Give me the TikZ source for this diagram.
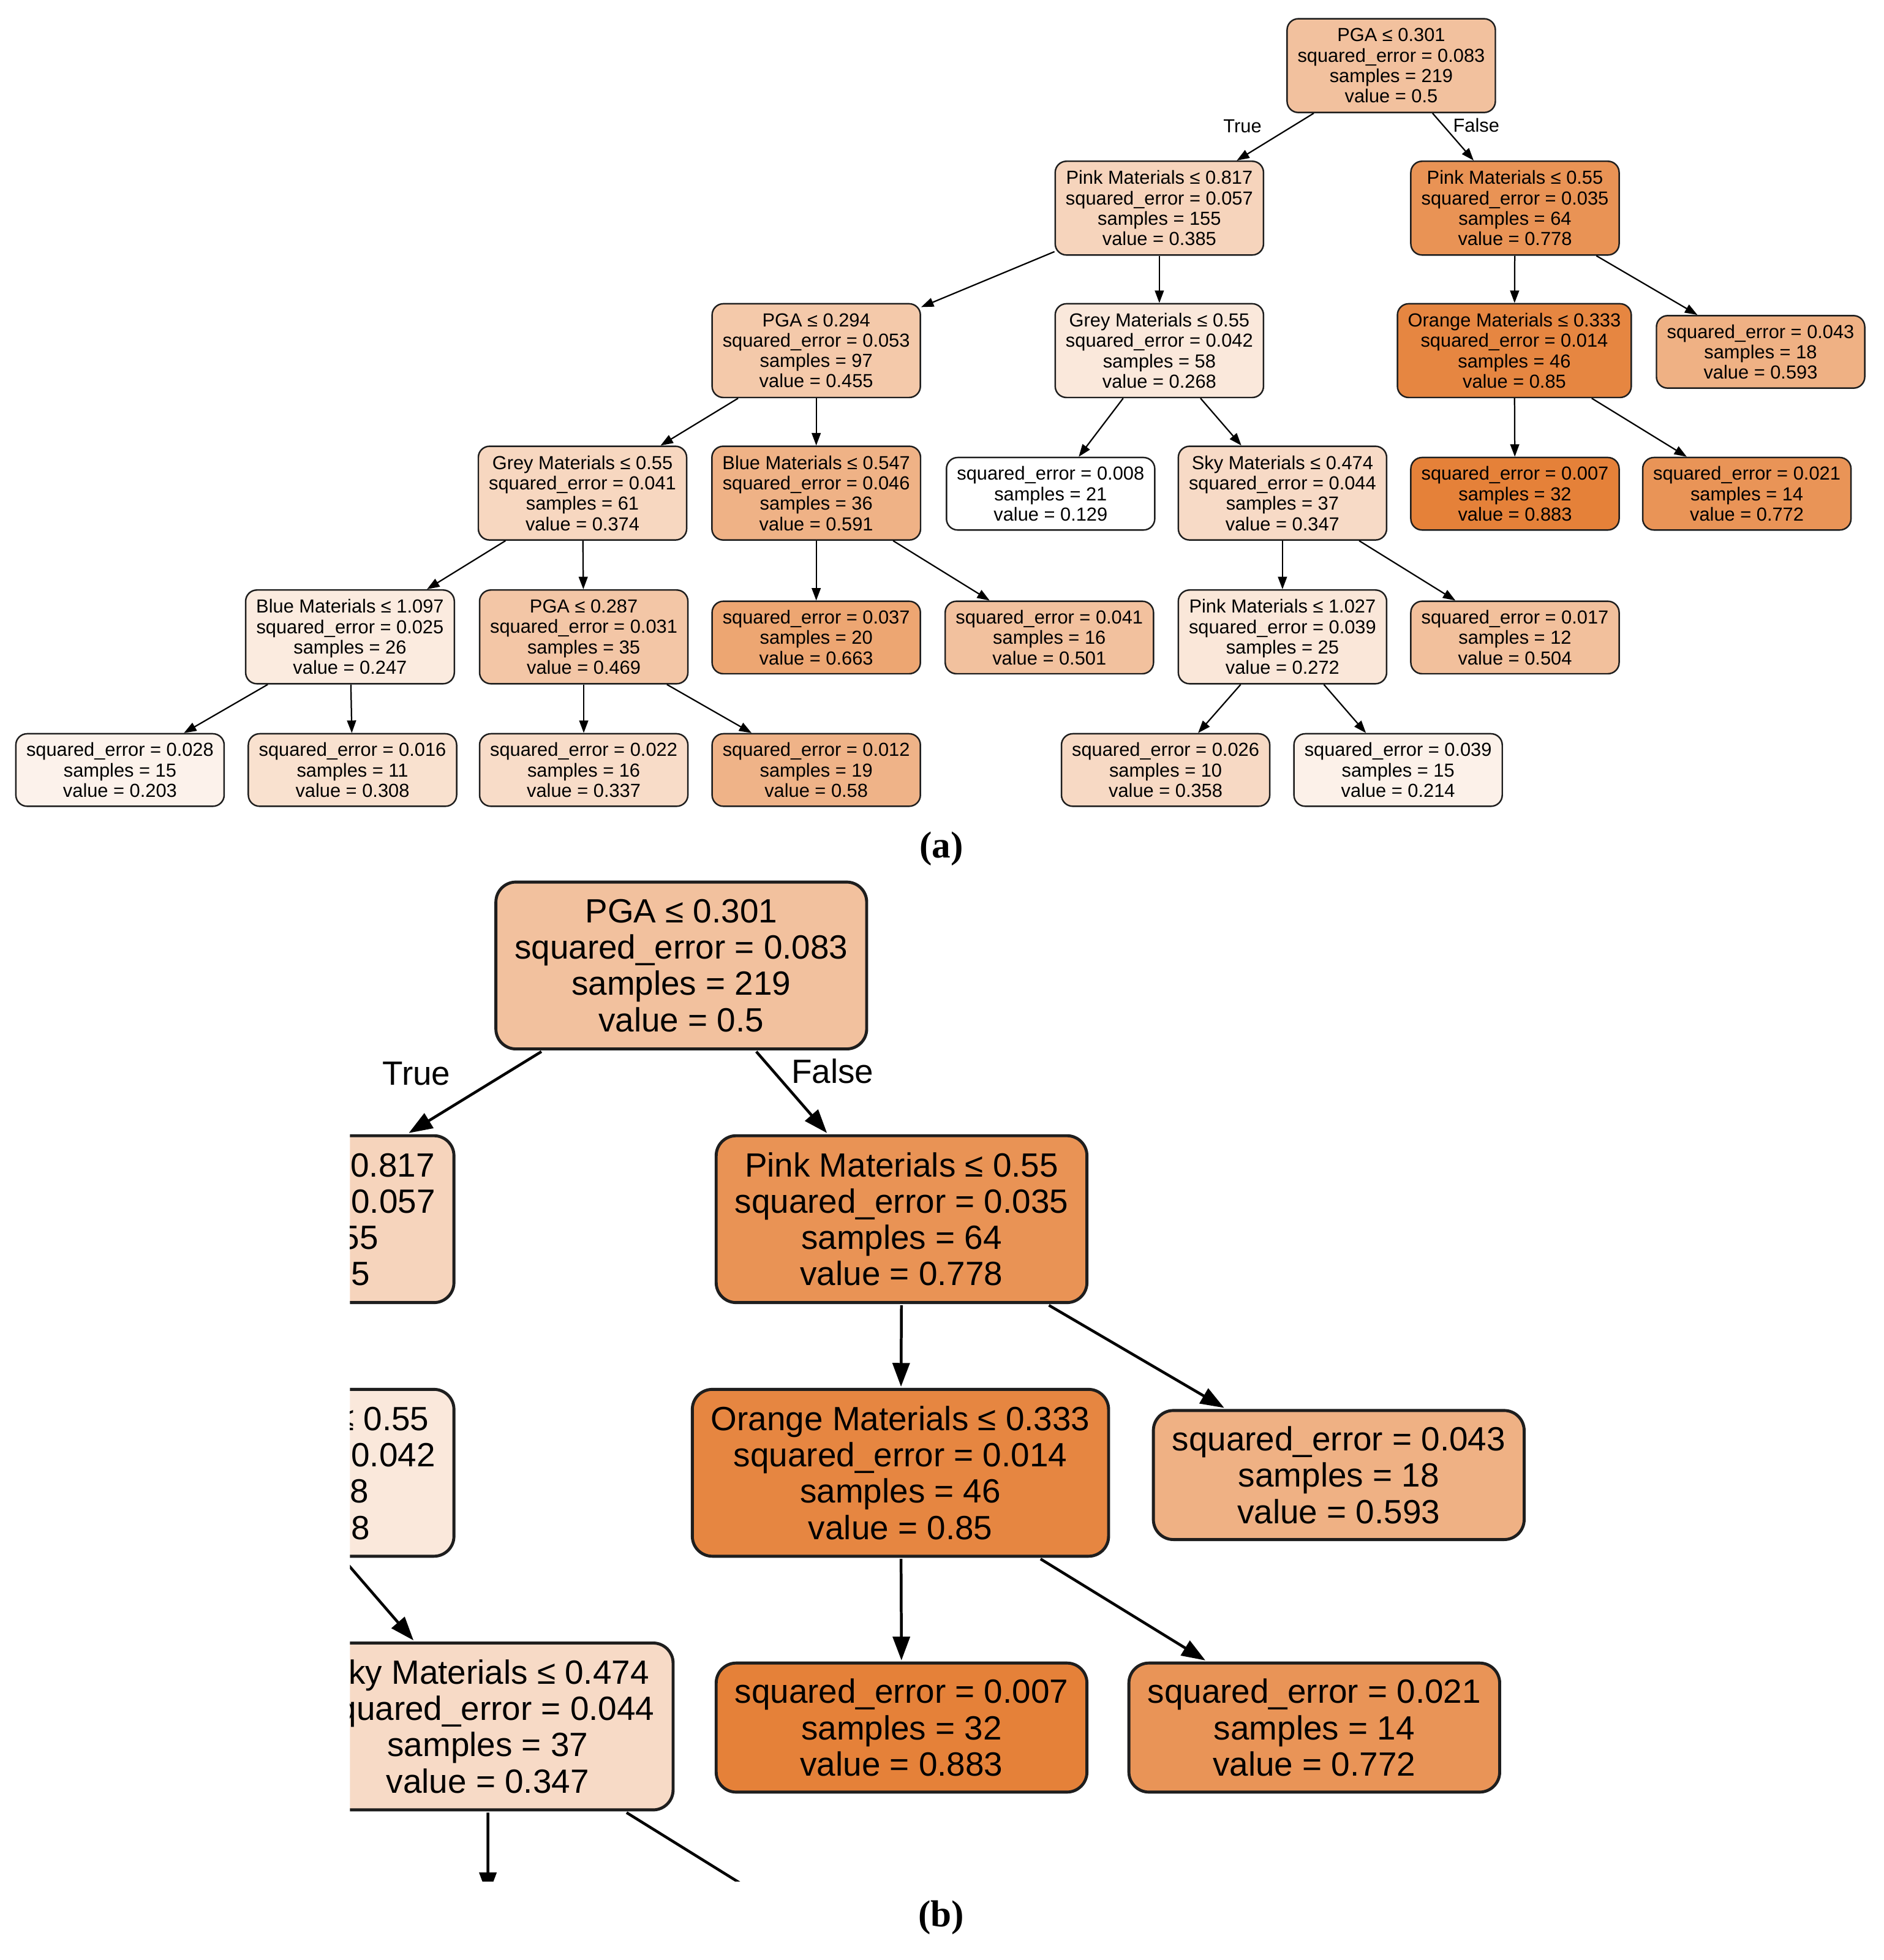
\documentclass[tikz,border=0pt]{standalone}
\usepackage{fontspec}
\setmainfont{Liberation Sans}
\newfontfamily\labfont{Liberation Serif}
\usetikzlibrary{arrows.meta}
\definecolor{orng}{RGB}{229,129,57}
\definecolor{bord}{RGB}{30,30,30}

\newcommand\drawtree[1]{%
  \node[four=49] (#1r) at (1113,52.5) {PGA ≤ 0.301\\squared\_error = 0.083\\samples = 219\\value = 0.5};
  \node[four=34] (#1a) at (927.5,166.5) {Pink Materials ≤ 0.817\\squared\_error = 0.057\\samples = 155\\value = 0.385};
  \node[four=86] (#1b) at (1212,166.5) {Pink Materials ≤ 0.55\\squared\_error = 0.035\\samples = 64\\value = 0.778};
  \node[four=43] (#1c) at (653,280.5) {PGA ≤ 0.294\\squared\_error = 0.053\\samples = 97\\value = 0.455};
  \node[four=18] (#1d) at (927.5,280.5) {Grey Materials ≤ 0.55\\squared\_error = 0.042\\samples = 58\\value = 0.268};
  \node[four=96] (#1e) at (1211.5,280.5) {Orange Materials ≤ 0.333\\squared\_error = 0.014\\samples = 46\\value = 0.85};
  \node[three=62] (#1f) at (1408.5,281.5) {squared\_error = 0.043\\samples = 18\\value = 0.593};
  \node[four=32] (#1g) at (466,394.5) {Grey Materials ≤ 0.55\\squared\_error = 0.041\\samples = 61\\value = 0.374};
  \node[four=61] (#1h) at (653,394.5) {Blue Materials ≤ 0.547\\squared\_error = 0.046\\samples = 36\\value = 0.591};
  \node[three=0] (#1i) at (840.5,395) {squared\_error = 0.008\\samples = 21\\value = 0.129};
  \node[four=29] (#1j) at (1026,394.5) {Sky Materials ≤ 0.474\\squared\_error = 0.044\\samples = 37\\value = 0.347};
  \node[three=100] (#1k) at (1212,395) {squared\_error = 0.007\\samples = 32\\value = 0.883};
  \node[three=85] (#1l) at (1397.5,395) {squared\_error = 0.021\\samples = 14\\value = 0.772};
  \node[four=16] (#1m) at (280,509.5) {Blue Materials ≤ 1.097\\squared\_error = 0.025\\samples = 26\\value = 0.247};
  \node[four=45] (#1n) at (467,509.5) {PGA ≤ 0.287\\squared\_error = 0.031\\samples = 35\\value = 0.469};
  \node[three=71] (#1o) at (653,510) {squared\_error = 0.037\\samples = 20\\value = 0.663};
  \node[three=49] (#1p) at (839.5,510) {squared\_error = 0.041\\samples = 16\\value = 0.501};
  \node[four=19] (#1q) at (1026,509.5) {Pink Materials ≤ 1.027\\squared\_error = 0.039\\samples = 25\\value = 0.272};
  \node[three=50] (#1s) at (1212,510) {squared\_error = 0.017\\samples = 12\\value = 0.504};
  \node[three=10] (#1t) at (96,616) {squared\_error = 0.028\\samples = 15\\value = 0.203};
  \node[three=24] (#1u) at (282,616) {squared\_error = 0.016\\samples = 11\\value = 0.308};
  \node[three=28] (#1v) at (467,616) {squared\_error = 0.022\\samples = 16\\value = 0.337};
  \node[three=60] (#1w) at (653,616) {squared\_error = 0.012\\samples = 19\\value = 0.58};
  \node[three=30] (#1x) at (932.5,616) {squared\_error = 0.026\\samples = 10\\value = 0.358};
  \node[three=11] (#1y) at (1118.5,616) {squared\_error = 0.039\\samples = 15\\value = 0.214};
  \node[lbl] (#1true) at (994,101) {True};
  \node[lbl] (#1false) at (1181,100) {False};
  \draw[edv] (#1r) -- (#1a);
  \draw[edv] (#1r) -- (#1b);
  \draw[edv] (#1a) -- (#1c);
  \draw[edv] (#1a) -- (#1d);
  \draw[edv] (#1b) -- (#1e);
  \draw[edv] (#1b) -- (#1f);
  \draw[edv] (#1c) -- (#1g);
  \draw[edv] (#1c) -- (#1h);
  \draw[edv] (#1d) -- (#1i);
  \draw[edv] (#1d) -- (#1j);
  \draw[edv] (#1e) -- (#1k);
  \draw[edv] (#1e) -- (#1l);
  \draw[edv] (#1g) -- (#1m);
  \draw[edv] (#1g) -- (#1n);
  \draw[edv] (#1h) -- (#1o);
  \draw[edv] (#1h) -- (#1p);
  \draw[edv] (#1j) -- (#1q);
  \draw[edv] (#1j) -- (#1s);
  \draw[edv] (#1m) -- (#1t);
  \draw[edv] (#1m) -- (#1u);
  \draw[edv] (#1n) -- (#1v);
  \draw[edv] (#1n) -- (#1w);
  \draw[edv] (#1q) -- (#1x);
  \draw[edv] (#1q) -- (#1y);
}

\begin{document}
\begin{tikzpicture}[x=0.5pt,y=-0.5pt,
  tnode/.style={draw=bord, bxv, minimum width=83pt, inner xsep=4.2pt, inner ysep=0pt,
    align=center, font=\fontsize{7.55}{8.15}\selectfont, text=black},
  four/.style={tnode, minimum height=37.5pt, fill=orng!#1!white},
  three/.style={tnode, minimum height=29pt, fill=orng!#1!white},
  lbl/.style={inner sep=0pt, font=\fontsize{7.55}{8.15}\selectfont, text=black},
  tag/.style={inner sep=0pt, font=\labfont\bfseries\fontsize{15}{18}\selectfont}]
\useasboundingbox[fill=white] (0,0) rectangle (1507,1568);

% (a) full tree
\begin{scope}[bxv/.style={line width=0.6pt, rounded corners=4.5pt},
  edv/.style={line width=0.55pt, draw=black, -{Triangle[length=5pt,width=3.6pt]}}]
  \drawtree{A}
\end{scope}
\node[tag] (taga) at (753,679) {(a)};

% (b) enlarged detail
\begin{scope}
  \clip (280,695) rectangle (1240,1505);
  \begin{scope}[shift={(-1436.1,678.94)}, scale=1.78, transform shape,
    bxv/.style={line width=1.2pt, rounded corners=8pt},
    edv/.style={line width=1.1pt, draw=black, -{Triangle[length=9.5pt,width=6.8pt]}}]
    \drawtree{B}
  \end{scope}
\end{scope}
\node[tag] (tagb) at (753,1534) {(b)};
\end{tikzpicture}
\end{document}
